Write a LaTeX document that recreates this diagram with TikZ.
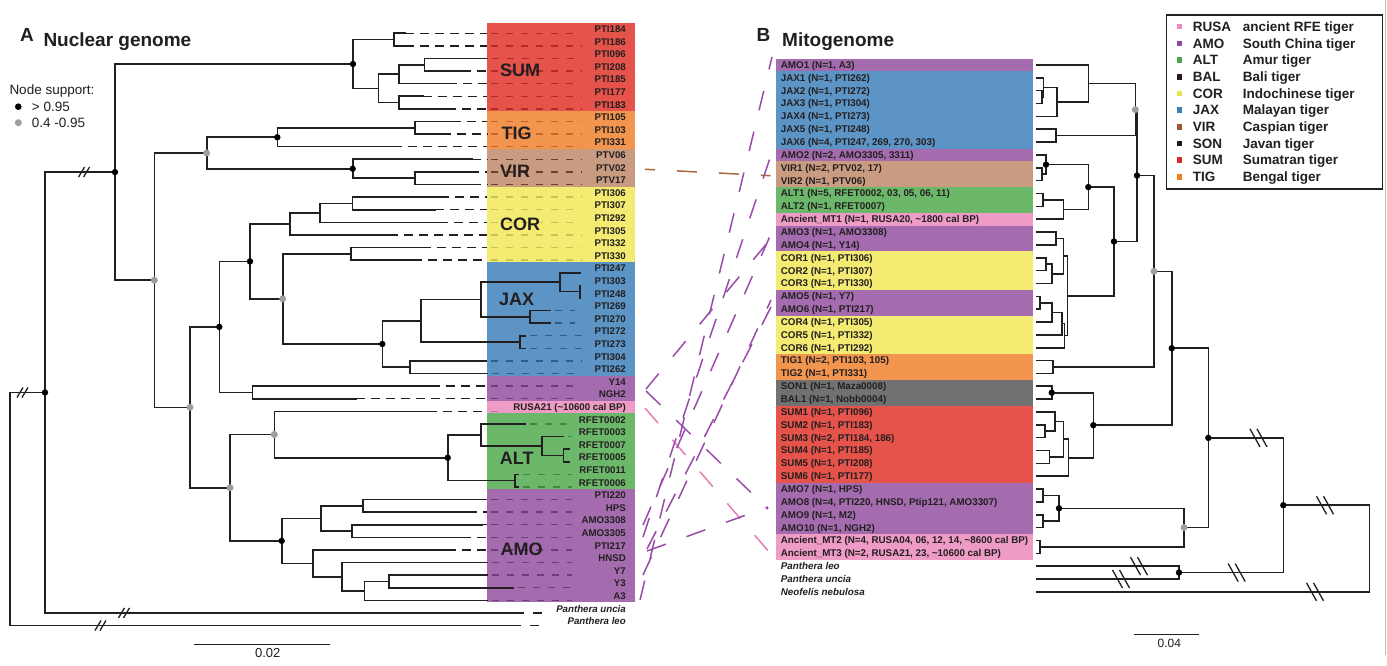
\documentclass[tikz,border=0pt]{standalone}
\usepackage{fontspec}
\setmainfont{Liberation Sans}
\usetikzlibrary{calc}
\definecolor{cSUM}{HTML}{E5534B}
\definecolor{cTIG}{HTML}{F1954F}
\definecolor{cVIR}{HTML}{C99B80}
\definecolor{cCOR}{HTML}{F3EB72}
\definecolor{cJAX}{HTML}{5C94C5}
\definecolor{cAMO}{HTML}{A46CAE}
\definecolor{cRUS}{HTML}{EE9BC5}
\definecolor{cALT}{HTML}{6CB86A}
\definecolor{cGRY}{HTML}{717171}
\definecolor{dSUM}{HTML}{B32A2A}
\definecolor{dTIG}{HTML}{C8662A}
\definecolor{dVIR}{HTML}{6E3E26}
\definecolor{dCOR}{HTML}{C9C458}
\definecolor{dJAX}{HTML}{2E5E8E}
\definecolor{dAMO}{HTML}{6E3C7E}
\definecolor{dRUS}{HTML}{C9709E}
\definecolor{dALT}{HTML}{3E8A3E}
\definecolor{lnP}{HTML}{9A4DA8}
\definecolor{lnK}{HTML}{E37FB4}
\definecolor{lnB}{HTML}{A9683F}
\definecolor{gRUS}{HTML}{E88CC0}
\definecolor{gAMO}{HTML}{8B4A9C}
\definecolor{gALT}{HTML}{4DA64D}
\definecolor{gBAL}{HTML}{2B1A17}
\definecolor{gCOR}{HTML}{E6E64C}
\definecolor{gJAX}{HTML}{3B7FB9}
\definecolor{gVIR}{HTML}{A0552D}
\definecolor{gSON}{HTML}{231815}
\definecolor{gSUM}{HTML}{D42A2A}
\definecolor{gTIG}{HTML}{F0801E}
\definecolor{ink}{HTML}{231F20}
\tikzset{
  tree/.style={line width=1.6pt, draw=ink, line cap=rect},
  bdash/.style={line width=1.5pt, draw=ink, dash pattern=on 9pt off 6pt},
  cdash/.style={line width=1.3pt, dash pattern=on 7pt off 8pt},
  lbl/.style={inner sep=0pt, anchor=base east, text=ink, font=\bfseries\fontsize{9.7}{10}\selectfont},
  rlbl/.style={inner sep=0pt, anchor=base west, text=ink, font=\bfseries\fontsize{9.8}{10}\selectfont},
  big/.style={inner sep=0pt, text=ink, font=\bfseries\fontsize{18}{20}\selectfont},
  ttl/.style={inner sep=0pt, anchor=base west, text=ink, font=\bfseries\fontsize{19}{21}\selectfont},
  leg/.style={inner sep=0pt, anchor=base west, text=ink, font=\bfseries\fontsize{13.5}{15}\selectfont},
  plain/.style={inner sep=0pt, text=ink, font=\fontsize{13.5}{15}\selectfont},
  bdot/.style={fill=black},
  gdot/.style={fill=black!38},
  mline/.style={line width=1.5pt, dash pattern=on 20pt off 22pt},
  brk/.style={line width=1.3pt, draw=ink},
}
\newcommand\cn[3]{\coordinate (#1) at (#2,#3);}
\newcommand\phy[3]{\draw[tree] (#2) -| (#1) |- (#3);}
\newcommand\lbrk[1]{\draw[brk] ($(#1)+(-5.5,5)$) -- ($(#1)+(0.5,-5)$); \draw[brk] ($(#1)+(-0.5,5)$) -- ($(#1)+(5.5,-5)$);}
\newcommand\rbrk[1]{\draw[brk] ($(#1)+(-8.5,-9)$) -- ($(#1)+(1.5,9)$); \draw[brk] ($(#1)+(-1.5,-9)$) -- ($(#1)+(8.5,9)$);}
\newcommand\lband[3]{\fill[#1] (486.7,{33.3+12.6*#2-10.5}) rectangle (635,{33.3+12.6*#3+2.1});}
\newcommand\rband[3]{\fill[#1] (776,{65+12.85*#2-6.425}) rectangle (1032.7,{65+12.85*#3+6.425});}
\newcommand\rlab[3][]{\node[rlbl,#1] (rt#2) at (780.7,{65+12.85*#2+3.4}) {#3};}
\begin{document}
\begin{tikzpicture}[x=1pt,y=-1pt]
\useasboundingbox (0,0) rectangle (1387,666);
\fill[white] (0,0) rectangle (1387,666);
\draw[black!25, line width=0.8pt] (1385,0) -- (1385,655);

% ---------- titles ----------
\node[ttl] (tA) at (20,41.7) {A};
\node[ttl] (tAn) at (43.3,46.7) {Nuclear genome};
\node[ttl] (tB) at (756.5,41.7) {B};
\node[ttl] (tBn) at (782,46.7) {Mitogenome};

% ---------- node support legend ----------
\node[plain, anchor=base west] (ns) at (9.3,94.8) {Node support:};
\fill[bdot] (18.3,106.7) circle (3.3);
\node[plain, anchor=base west] (ns1) at (31.7,111.8) {> 0.95};
\fill[gdot] (18.3,122.7) circle (3.5);
\node[plain, anchor=base west] (ns2) at (31.7,127.8) {0.4 -0.95};

% ---------- left colour bands ----------
\lband{cSUM}{0}{6}
\lband{cTIG}{7}{9}
\lband{cVIR}{10}{12}
\lband{cCOR}{13}{18}
\lband{cJAX}{19}{27}
\lband{cAMO}{28}{29}
\lband{cRUS}{30}{30}
\lband{cALT}{31}{36}
\lband{cAMO}{37}{45}

% ---------- left tips ----------
\foreach \i/\e/\c/\f in {0/405/dSUM/582,1/405/dSUM/582,2/487/dSUM/582,3/461.7/dSUM/582,4/448/dSUM/582,5/423/dSUM/582,6/446.7/dSUM/582,
 7/451.7/dTIG/582,8/441.7/dTIG/582,9/393.3/dTIG/582,
 10/471.7/dVIR/582,11/470/dVIR/582,12/471.7/dVIR/582,
 13/440/dCOR/582,14/435/dCOR/582,15/439.3/dCOR/582,16/389.3/dCOR/582,17/421.7/dCOR/582,18/413.3/dCOR/582,
 19/580/dJAX/582,20/580/dJAX/582,21/580/dJAX/582,22/550/dJAX/575,23/550/dJAX/575,24/525/dJAX/582,25/525/dJAX/582,26/483.3/dJAX/582,27/487/dJAX/582,
 28/430.7/dAMO/575,29/355.7/dAMO/575,30/428.3/dRUS/505,
 31/525/dALT/572,32/563/dALT/572,33/569/dALT/572,34/569/dALT/572,35/518/dALT/572,36/518/dALT/572,
 37/480/dAMO/572,38/468.3/dAMO/572,39/481.7/dAMO/572,40/461.7/dAMO/572,41/446.7/dAMO/572,42/487/dAMO/572,43/487/dAMO/572,44/513/dAMO/572,45/487/dAMO/572}{
  \pgfmathsetmacro\yy{33.3+12.6*\i}
  \coordinate (L\i) at (\e,\yy);
  \ifdim \e pt<484pt \draw[bdash] (L\i) -- (487,\yy); \fi
  \pgfmathsetmacro\cs{max(\e+5,491)}
  \ifdim \cs pt<\f pt \draw[cdash,draw=\c] (\cs,\yy) -- (\f,\yy); \fi
}
\coordinate (L46) at (523,612.9);
\coordinate (L47) at (520,625.5);
\draw[bdash] (533,612.9) -- (542,612.9);
\draw[bdash] (530,625.5) -- (543,625.5);

% ---------- left internal nodes ----------
\cn{s01}{394}{39.6}
\cn{s23}{424.3}{64.8}
\cn{s234}{398.7}{74.25}
\cn{s56}{398.7}{102.6}
\cn{sB}{378.3}{88.4}
\cn{SUMn}{353}{64.0}
\cn{tig78}{415}{127.8}
\cn{TIGn}{277.3}{137.25}
\cn{vir1112}{415}{178.2}
\cn{VIRn}{352.7}{168.75}
\cn{ND}{206.7}{153.0}
\cn{c1314}{352.3}{203.4}
\cn{c15}{320}{212.85}
\cn{c16}{290}{223.9}
\cn{c1718}{351}{253.8}
\cn{j2021}{580}{291.6}
\cn{j19}{560}{282.15}
\cn{j2223}{530}{316.8}
\cn{j481}{481}{299.5}
\cn{j2425}{520}{342.0}
\cn{j421}{421}{320.75}
\cn{j2627}{410}{367.2}
\cn{JAXn}{382.3}{344.0}
\cn{n2827}{282.7}{298.9}
\cn{NG}{250}{261.4}
\cn{y2829}{252.3}{392.4}
\cn{NF}{219.3}{326.9}
\cn{a3334}{563.3}{455.4}
\cn{a32}{541.7}{445.95}
\cn{a31}{481}{434.9}
\cn{a3536}{515}{480.6}
\cn{ALTn}{447.7}{457.75}
\cn{R30n}{274.3}{434.5}
\cn{m3738}{362.7}{505.8}
\cn{m3940}{351.7}{531.0}
\cn{ma}{320.7}{518.4}
\cn{m4344}{389}{581.4}
\cn{mb3}{364.3}{590.85}
\cn{mb2}{341.7}{576.7}
\cn{mb1}{312.7}{563.3}
\cn{AMOn}{281.7}{540.85}
\cn{NH}{230}{487.7}
\cn{NE}{190}{407.3}
\cn{NC}{154.3}{280.15}
\cn{NB}{115}{172.1}
\cn{NA}{45}{392.5}
\cn{NR}{10}{509}

\phy{s01}{L0}{L1}
\phy{s23}{L2}{L3}
\phy{s234}{s23}{L4}
\phy{s56}{L5}{L6}
\phy{sB}{s234}{s56}
\phy{SUMn}{s01}{sB}
\phy{tig78}{L7}{L8}
\phy{TIGn}{tig78}{L9}
\phy{vir1112}{L11}{L12}
\phy{VIRn}{L10}{vir1112}
\phy{ND}{TIGn}{VIRn}
\phy{c1314}{L13}{L14}
\phy{c15}{c1314}{L15}
\phy{c16}{c15}{L16}
\phy{c1718}{L17}{L18}
\phy{j2021}{L20}{L21}
\phy{j19}{L19}{j2021}
\phy{j2223}{L22}{L23}
\phy{j481}{j19}{j2223}
\phy{j2425}{L24}{L25}
\phy{j421}{j481}{j2425}
\phy{j2627}{L26}{L27}
\phy{JAXn}{j421}{j2627}
\phy{n2827}{c1718}{JAXn}
\phy{NG}{c16}{n2827}
\phy{y2829}{L28}{L29}
\phy{NF}{NG}{y2829}
\phy{a3334}{L33}{L34}
\phy{a32}{L32}{a3334}
\phy{a31}{L31}{a32}
\phy{a3536}{L35}{L36}
\phy{ALTn}{a31}{a3536}
\phy{R30n}{L30}{ALTn}
\phy{m3738}{L37}{L38}
\phy{m3940}{L39}{L40}
\phy{ma}{m3738}{m3940}
\phy{m4344}{L43}{L44}
\phy{mb3}{m4344}{L45}
\phy{mb2}{L42}{mb3}
\phy{mb1}{L41}{mb2}
\phy{AMOn}{ma}{mb1}
\phy{NH}{R30n}{AMOn}
\phy{NE}{NF}{NH}
\phy{NC}{ND}{NE}
\phy{NB}{SUMn}{NC}
\phy{NA}{NB}{L46}
\phy{NR}{NA}{L47}

\coordinate (bk1) at (84,172.1);
\coordinate (bk2) at (22.5,392.5);
\coordinate (bk3) at (124,612.9);
\coordinate (bk4) at (100.5,625.5);
\lbrk{bk1}\lbrk{bk2}\lbrk{bk3}\lbrk{bk4}

\foreach \n in {NA,NB,SUMn,TIGn,VIRn,NF,NG,JAXn,ALTn,AMOn}{\fill[bdot] (\n) circle (3.2);}
\foreach \n in {NC,ND,NE,NH,n2827,R30n}{\fill[gdot] (\n) circle (3.5);}

% ---------- left labels ----------
\foreach \i/\t in {0/PTI184,1/PTI186,2/PTI096,3/PTI208,4/PTI185,5/PTI177,6/PTI183,7/PTI105,8/PTI103,9/PTI331,
 10/PTV06,11/PTV02,12/PTV17,13/PTI306,14/PTI307,15/PTI292,16/PTI305,17/PTI332,18/PTI330,
 19/PTI247,20/PTI303,21/PTI248,22/PTI269,23/PTI270,24/PTI272,25/PTI273,26/PTI304,27/PTI262,
 28/Y14,29/NGH2,30/RUSA21 (\textasciitilde10600 cal BP),31/RFET0002,32/RFET0003,33/RFET0007,34/RFET0005,35/RFET0011,36/RFET0006,
 37/PTI220,38/HPS,39/AMO3308,40/AMO3305,41/PTI217,42/HNSD,43/Y7,44/Y3,45/A3}{
  \node[lbl] (lt\i) at (626,{33.3+12.6*\i-0.8}) {\t};
}
\node[lbl, font=\bfseries\itshape\fontsize{9.7}{10}\selectfont] (lt46) at (626,{33.3+12.6*46-0.8}) {Panthera uncia};
\node[lbl, font=\bfseries\itshape\fontsize{9.7}{10}\selectfont] (lt47) at (626,{33.3+12.6*47-0.8}) {Panthera leo};

\node[big] (gSUMt) at (520,70) {SUM};
\node[big] (gTIGt) at (516.7,133.3) {TIG};
\node[big] (gVIRt) at (515,171) {VIR};
\node[big] (gCORt) at (520,224) {COR};
\node[big] (gJAXt) at (516.7,299.3) {JAX};
\node[big] (gALTt) at (516.7,458.3) {ALT};
\node[big] (gAMOt) at (521.7,549.3) {AMO};

% ---------- left scale bar ----------
\coordinate (sl1) at (194.3,644.3);
\coordinate (sl2) at (330,644.3);
\draw[line width=1.4pt, ink] (sl1) -- (sl2);
\node[plain, font=\fontsize{13}{14}\selectfont] (slt) at (267.7,653) {0.02};

% ---------- right colour bands ----------
\rband{cAMO}{0}{0}
\rband{cJAX}{1}{6}
\rband{cAMO}{7}{7}
\rband{cVIR}{8}{9}
\rband{cALT}{10}{11}
\rband{cRUS}{12}{12}
\rband{cAMO}{13}{14}
\rband{cCOR}{15}{17}
\rband{cAMO}{18}{19}
\rband{cCOR}{20}{22}
\rband{cTIG}{23}{24}
\rband{cGRY}{25}{26}
\rband{cSUM}{27}{32}
\rband{cAMO}{33}{36}
\rband{cRUS}{37}{38}
\draw[black!55, line width=0.6pt] (776,{65+12.85*24.5}) -- (1032.7,{65+12.85*24.5});
\draw[black!55, line width=0.6pt] (776,{65+12.85*25.5}) -- (1032.7,{65+12.85*25.5});
\draw[black!55, line width=0.6pt] (776,{65+12.85*26.5}) -- (1032.7,{65+12.85*26.5});

\rlab{0}{AMO1 (N=1, A3)}
\rlab{1}{JAX1 (N=1, PTI262)}
\rlab{2}{JAX2 (N=1, PTI272)}
\rlab{3}{JAX3 (N=1, PTI304)}
\rlab{4}{JAX4 (N=1, PTI273)}
\rlab{5}{JAX5 (N=1, PTI248)}
\rlab{6}{JAX6 (N=4, PTI247, 269, 270, 303)}
\rlab{7}{AMO2 (N=2, AMO3305, 3311)}
\rlab{8}{VIR1 (N=2, PTV02, 17)}
\rlab{9}{VIR2 (N=1, PTV06)}
\rlab{10}{ALT1 (N=5, RFET0002, 03, 05, 06, 11)}
\rlab{11}{ALT2 (N=1, RFET0007)}
\rlab{12}{Ancient\_MT1 (N=1, RUSA20, \textasciitilde1800 cal BP)}
\rlab{13}{AMO3 (N=1, AMO3308)}
\rlab{14}{AMO4 (N=1, Y14)}
\rlab{15}{COR1 (N=1, PTI306)}
\rlab{16}{COR2 (N=1, PTI307)}
\rlab{17}{COR3 (N=1, PTI330)}
\rlab{18}{AMO5 (N=1, Y7)}
\rlab{19}{AMO6 (N=1, PTI217)}
\rlab{20}{COR4 (N=1, PTI305)}
\rlab{21}{COR5 (N=1, PTI332)}
\rlab{22}{COR6 (N=1, PTI292)}
\rlab{23}{TIG1 (N=2, PTI103, 105)}
\rlab{24}{TIG2 (N=1, PTI331)}
\rlab{25}{SON1 (N=1, Maza0008)}
\rlab{26}{BAL1 (N=1, Nobb0004)}
\rlab{27}{SUM1 (N=1, PTI096)}
\rlab{28}{SUM2 (N=1, PTI183)}
\rlab{29}{SUM3 (N=2, PTI184, 186)}
\rlab{30}{SUM4 (N=1, PTI185)}
\rlab{31}{SUM5 (N=1, PTI208)}
\rlab{32}{SUM6 (N=1, PTI177)}
\rlab{33}{AMO7 (N=1, HPS)}
\rlab{34}{AMO8 (N=4, PTI220, HNSD, Ptip121, AMO3307)}
\rlab{35}{AMO9 (N=1, M2)}
\rlab{36}{AMO10 (N=1, NGH2)}
\rlab{37}{Ancient\_MT2 (N=4, RUSA04, 06, 12, 14, \textasciitilde8600 cal BP)}
\rlab{38}{Ancient\_MT3 (N=2, RUSA21, 23, \textasciitilde10600 cal BP)}
\rlab[font=\bfseries\itshape\fontsize{9.8}{10}\selectfont]{39}{Panthera leo}
\rlab[font=\bfseries\itshape\fontsize{9.8}{10}\selectfont]{40}{Panthera uncia}
\rlab[font=\bfseries\itshape\fontsize{9.8}{10}\selectfont]{41}{Neofelis nebulosa}

% ---------- right tree ----------
\foreach \j in {0,...,41}{\coordinate (r\j) at (1036.7,{65+12.85*\j});}
\cn{q23}{1041.7}{97.1}
\cn{q1}{1043.3}{87.5}
\cn{q4}{1056.7}{101.95}
\cn{q0}{1088.3}{83.5}
\cn{q56}{1056}{135.7}
\cn{qJ}{1135.3}{109.6}
\cn{q89}{1041.7}{174.2}
\cn{q7}{1046}{164.6}
\cn{q1011}{1042.7}{199.9}
\cn{q12}{1063.3}{209.55}
\cn{q7b}{1088.3}{187.1}
\cn{q1314}{1056}{238.5}
\cn{q1516}{1046}{264.2}
\cn{q17}{1051.7}{273.8}
\cn{qG1}{1063.3}{256.15}
\cn{q1819}{1040}{302.7}
\cn{q20}{1051.7}{312.35}
\cn{q21}{1062}{323.6}
\cn{q22}{1064.5}{335.65}
\cn{qG}{1067.3}{295.9}
\cn{qM}{1114}{241.5}
\cn{qU}{1137}{175.55}
\cn{q2324}{1052.7}{367}
\cn{qT}{1154}{271.3}
\cn{q2526}{1051.7}{392.7}
\cn{q2829}{1045}{431.2}
\cn{q27}{1055}{421.6}
\cn{q3031}{1049.3}{456.9}
\cn{q30}{1063.3}{439.25}
\cn{q32}{1068.3}{457.7}
\cn{qS}{1093.3}{425.2}
\cn{qV}{1171.7}{348.25}
\cn{q3334}{1042.7}{495.5}
\cn{q3536}{1042.7}{521.2}
\cn{qA}{1059}{508.3}
\cn{q3738}{1040}{546.9}
\cn{qAn}{1184}{527.6}
\cn{qW}{1208.3}{437.9}
\cn{q3940}{1179}{572.6}
\cn{qX}{1283.3}{505.25}
\cn{qRt}{1369.3}{548.5}

\phy{q23}{r2}{r3}
\phy{q1}{r1}{q23}
\phy{q4}{q1}{r4}
\phy{q0}{r0}{q4}
\phy{q56}{r5}{r6}
\phy{qJ}{q0}{q56}
\phy{q89}{r8}{r9}
\phy{q7}{r7}{q89}
\phy{q1011}{r10}{r11}
\phy{q12}{q1011}{r12}
\phy{q7b}{q7}{q12}
\phy{q1314}{r13}{r14}
\phy{q1516}{r15}{r16}
\phy{q17}{q1516}{r17}
\phy{qG1}{q1314}{q17}
\phy{q1819}{r18}{r19}
\phy{q20}{q1819}{r20}
\phy{q21}{q20}{r21}
\phy{q22}{q21}{r22}
\phy{qG}{qG1}{q22}
\phy{qM}{q7b}{qG}
\phy{qU}{qJ}{qM}
\phy{q2324}{r23}{r24}
\phy{qT}{qU}{q2324}
\phy{q2526}{r25}{r26}
\phy{q2829}{r28}{r29}
\phy{q27}{r27}{q2829}
\phy{q3031}{r30}{r31}
\phy{q30}{q27}{q3031}
\phy{q32}{q30}{r32}
\phy{qS}{q2526}{q32}
\phy{qV}{qT}{qS}
\phy{q3334}{r33}{r34}
\phy{q3536}{r35}{r36}
\phy{qA}{q3334}{q3536}
\phy{q3738}{r37}{r38}
\phy{qAn}{qA}{q3738}
\phy{qW}{qV}{qAn}
\phy{q3940}{r39}{r40}
\phy{qX}{qW}{q3940}
\phy{qRt}{qX}{r41}

\coordinate (rb1) at (1139,566.15);
\coordinate (rb2) at (1121,579);
\coordinate (rb3) at (1236.7,572.6);
\coordinate (rb4) at (1258.5,437.9);
\coordinate (rb5) at (1325,505.25);
\coordinate (rb6) at (1315,591.85);
\rbrk{rb1}\rbrk{rb2}\rbrk{rb3}\rbrk{rb4}\rbrk{rb5}\rbrk{rb6}

\foreach \n in {q7,q7b,qM,qU,q2526,qS,qV,qA,qW,q3940,qX}{\fill[bdot] (\n) circle (3.2);}
\foreach \n in {qJ,qT,qAn}{\fill[gdot] (\n) circle (3.5);}

% ---------- right scale bar ----------
\coordinate (sr1) at (1134.3,634.3);
\coordinate (sr2) at (1199.3,634.3);
\draw[line width=1.4pt, ink] (sr1) -- (sr2);
\node[plain, font=\fontsize{12}{13}\selectfont] (srt) at (1169.3,643.5) {0.04};

% ---------- connecting lines ----------
\coordinate (vL) at (645,169.3);  \coordinate (vR) at (770.7,175.7);
\coordinate (kL) at (645,408);    \coordinate (kR) at (770,553);
\coordinate (pA3) at (640,600);   \coordinate (pAMO1) at (772,57);
\coordinate (p3305) at (643,537); \coordinate (pAMO2) at (771,155);
\coordinate (p3308) at (643,525); \coordinate (pAMO3) at (770,236);
\coordinate (pY14) at (646,389);  \coordinate (pAMO4) at (768,242);
\coordinate (pY7) at (643,575);   \coordinate (pAMO5) at (771,300);
\coordinate (p217) at (647,549);  \coordinate (pAMO6) at (771,307);
\coordinate (pHN) at (647,551);   \coordinate (pAMO8) at (768,507);
\coordinate (pNG) at (646,391);   \coordinate (pAMO10) at (768,509);
\draw[mline, lnB, dash phase=10pt] (vL) -- (vR);
\draw[mline, lnK] (kL) -- (kR);
\draw[mline, lnP] (pA3) -- (pAMO1);
\draw[mline, lnP] (p3305) -- (pAMO2);
\draw[mline, lnP] (p3308) -- (pAMO3);
\draw[mline, lnP] (pY14) -- (pAMO4);
\draw[mline, lnP] (pY7) -- (pAMO5);
\draw[mline, lnP] (p217) -- (pAMO6);
\draw[mline, lnP] (pHN) -- (pAMO8);
\draw[mline, lnP] (pNG) -- (pAMO10);

% ---------- legend ----------
\draw[line width=1.3pt, ink] (1166.7,15) rectangle (1382.3,189);
\foreach \k/\col/\ab/\de in {0/gRUS/RUSA/ancient RFE tiger,1/gAMO/AMO/South China tiger,2/gALT/ALT/Amur tiger,3/gBAL/BAL/Bali tiger,4/gCOR/COR/Indochinese tiger,5/gJAX/JAX/Malayan tiger,6/gVIR/VIR/Caspian tiger,7/gSON/SON/Javan tiger,8/gSUM/SUM/Sumatran tiger,9/gTIG/TIG/Bengal tiger}{
  \pgfmathsetmacro\ly{26.7+16.67*\k}
  \fill[\col] (1176.5,\ly-2.8) rectangle (1182.3,\ly+2.8);
  \node[leg] (la\k) at (1192.7,\ly+4.7) {\ab};
  \node[leg] (ld\k) at (1242.7,\ly+4.7) {\de};
}
\end{tikzpicture}
\end{document}
